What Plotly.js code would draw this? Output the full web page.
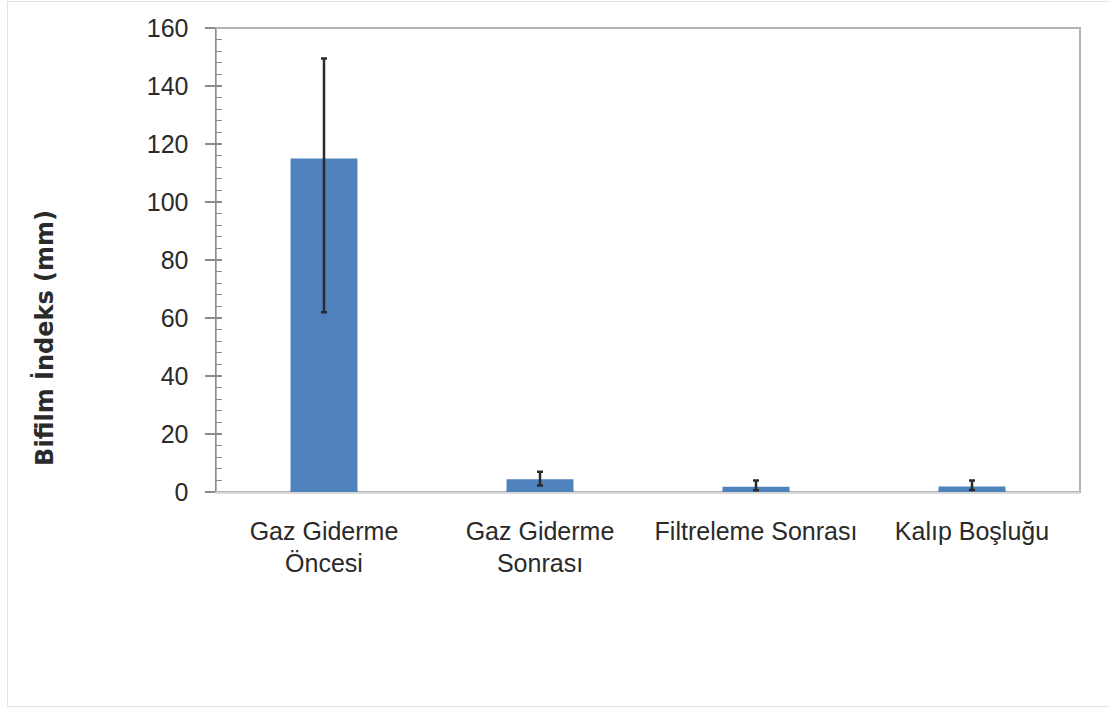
<!DOCTYPE html>
<html>
<head>
<meta charset="utf-8">
<script src="https://cdn.plot.ly/plotly-3.0.1.min.js"></script>
<style>
html,body{margin:0;padding:0;background:#fff;}
#frame{position:absolute;left:7px;top:1px;width:1110px;height:706px;border:1px solid #e3e3e3;box-sizing:border-box;}
#chart{position:absolute;left:0;top:0;width:1109px;height:712px;}
</style>
</head>
<body>
<div id="frame"></div>
<div id="chart"></div>
<script>
const categories = ["Gaz Giderme<br>Öncesi", "Gaz Giderme<br>Sonrası", "Filtreleme Sonrası", "Kalıp Boşluğu"];
const values = [115, 4.4, 1.8, 1.9];
const errPlus = [34.5, 2.6, 2.2, 2.1];
const errMinus = [53, 2.2, 1.2, 1.2];
const yTicks = [0, 20, 40, 60, 80, 100, 120, 140, 160];
const yTitle = "Bifilm İndeks (mm)";

const font = "Liberation Sans, Arial, sans-serif";

const trace = {
  type: "bar",
  x: categories,
  y: values,
  marker: {color: "#4F81BD", line: {width: 0}},
  error_y: {
    type: "data",
    symmetric: false,
    array: errPlus,
    arrayminus: errMinus,
    color: "#2b2b2b",
    thickness: 2.5,
    width: 3
  },
  hoverinfo: "none"
};

// invisible trace on an overlaying axis to draw the inside minor tick marks
const tickTrace = {
  type: "scatter", mode: "markers",
  x: [categories[0]], y: [0], yaxis: "y2",
  marker: {opacity: 0}, showlegend: false, hoverinfo: "none"
};

const layout = {
  width: 1109, height: 712,
  margin: {l: 216, r: 29, t: 28, b: 220},
  paper_bgcolor: "rgba(0,0,0,0)",
  plot_bgcolor: "#ffffff",
  showlegend: false,
  bargap: 0.69,
  font: {family: font, color: "#2a2a2a", size: 25},
  xaxis: {
    type: "category",
    showgrid: false,
    showline: true, linecolor: "#d9d9d9", linewidth: 1.5,
    ticks: "",
    tickfont: {size: 25, family: font, color: "#2a2a2a"},
    ticklabelstandoff: 16,
    zeroline: false,
    fixedrange: true
  },
  yaxis: {
    range: [0, 160],
    tickvals: yTicks,
    ticktext: yTicks.map(String),
    showgrid: false,
    zeroline: false,
    showline: true, linecolor: "#8c8c8c", linewidth: 1.5,
    ticks: "outside", ticklen: 10, tickwidth: 1.2, tickcolor: "#8c8c8c",
    tickfont: {size: 25, family: font, color: "#2a2a2a"},
    ticklabelstandoff: 11,
    fixedrange: true
  },
  yaxis2: {
    overlaying: "y", side: "left",
    range: [0, 160],
    dtick: 4, tick0: 0,
    ticks: "inside", ticklen: 6, tickwidth: 1.2, tickcolor: "#8c8c8c",
    showticklabels: false, showgrid: false, zeroline: false, showline: false,
    fixedrange: true
  },
  annotations: [{
    text: "<b>" + yTitle + "</b>",
    xref: "paper", yref: "paper",
    x: -0.198, y: 0.332,
    xanchor: "center", yanchor: "middle",
    textangle: -90, showarrow: false,
    font: {family: "DejaVu Sans, sans-serif", size: 24, color: "#2a2a2a"}
  }],
  shapes: [{
    type: "rect", xref: "paper", yref: "paper", x0: 0, x1: 1, y0: 0, y1: 1,
    line: {color: "#b3b3b3", width: 2}, layer: "below"
  }]
};

Plotly.newPlot("chart", [trace, tickTrace], layout, {displayModeBar: false, staticPlot: true});
</script>
</body>
</html>
